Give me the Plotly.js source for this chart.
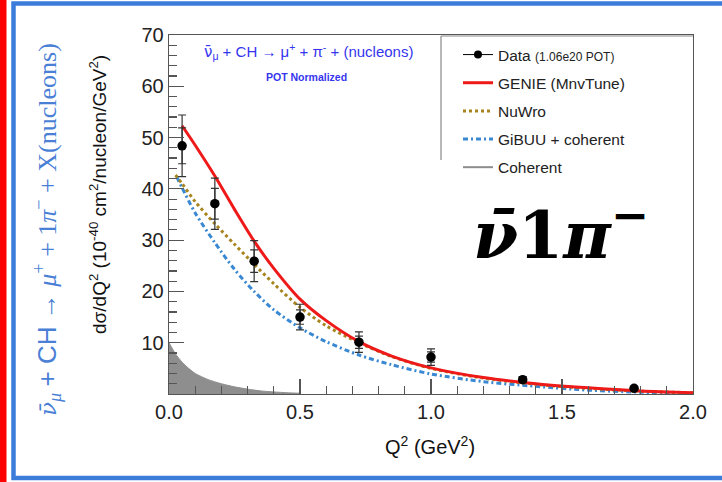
<!DOCTYPE html>
<html>
<head>
<meta charset="utf-8">
<script src="https://cdn.plot.ly/plotly-3.0.1.min.js"></script>
<style>
  html, body { margin: 0; padding: 0; background: #ffffff; }
  #chart { width: 722px; height: 482px; }
</style>
</head>
<body>
<div id="chart"></div>
<script>
// Measured differential cross section dσ/dQ² (1e-40 cm²/nucleon/GeV²)
const dataQ2       = [0.05, 0.175, 0.325, 0.5, 0.725, 1.0, 1.35, 1.775];
const dataXsec     = [48.4, 37.1, 25.9, 15.0, 10.1, 7.2, 2.8, 1.1];
const dataErrTotal = [6.0, 5.0, 4.0, 2.5, 2.0, 1.6, 0.6, 0.4];
const dataErrStat  = [3.5, 3.0, 2.2, 1.4, 1.2, 1.0, 0.4, 0.3];

// GENIE (MnvTune) prediction
const genieQ2   = [0.05, 0.1, 0.175, 0.25, 0.325, 0.4, 0.5, 0.6, 0.725, 0.85, 1.0, 1.2, 1.4, 1.6, 1.8, 2.0];
const genieXsec = [52.3, 48.5, 42.5, 36.0, 29.8, 24.5, 18.5, 14.3, 10.2, 7.4, 5.1, 3.2, 2.0, 1.2, 0.6, 0.25];

// NuWro prediction
const nuwroQ2   = [0.025, 0.05, 0.1, 0.175, 0.25, 0.325, 0.4, 0.5, 0.6, 0.725, 0.85, 1.0, 1.2, 1.4, 1.6, 1.8, 2.0];
const nuwroXsec = [42.7, 41.0, 37.5, 33.2, 29.2, 25.3, 21.5, 16.9, 13.3, 10.0, 7.3, 5.0, 3.1, 1.9, 1.1, 0.55, 0.25];

// GiBUU + coherent prediction
const gibuuQ2   = [0.03, 0.05, 0.1, 0.175, 0.25, 0.325, 0.4, 0.5, 0.6, 0.725, 0.85, 1.0, 1.2, 1.4, 1.6, 1.8, 2.0];
const gibuuXsec = [42.3, 40.2, 35.3, 29.5, 24.3, 20.0, 16.4, 12.9, 10.2, 7.6, 5.7, 3.9, 2.4, 1.5, 0.75, 0.35, 0.1];

// Coherent pion production component
const cohQ2   = [0.0, 0.025, 0.05, 0.075, 0.1, 0.15, 0.2, 0.25, 0.3, 0.35, 0.4, 0.45, 0.5];
const cohXsec = [10.0, 7.8, 6.2, 5.0, 4.0, 2.8, 2.0, 1.4, 0.95, 0.6, 0.4, 0.25, 0.15];

// Axis ticks
const xTickVals = [0, 0.5, 1.0, 1.5, 2.0];
const xTickText = ['0.0', '0.5', '1.0', '1.5', '2.0'];
const yTickVals = [10, 20, 30, 40, 50, 60, 70];

// Frame geometry (pixels) used to place decorations in paper coordinates
const W = 722, H = 482;
const PL = 169, PR = 693, PT = 35, PB = 394;
const px = v => (v - PL) / (PR - PL);
const py = v => (PB - v) / (PB - PT);

const SANS = 'Liberation Sans, Arial, Helvetica, sans-serif';
const SERIF = 'Liberation Serif, DejaVu Serif, serif';
const DSERIF = 'DejaVu Serif, serif';

const colGenie = '#ee1a1a';
const colNuwro = '#a8841e';
const colGibuu = '#3a88d2';
const colCoh   = '#8e8e8e';

const traces = [
  {
    x: cohQ2, y: cohXsec, type: 'scatter', mode: 'lines',
    line: { color: colCoh, width: 1, shape: 'spline', smoothing: 0.6 },
    fill: 'tozeroy', fillcolor: colCoh, showlegend: false, hoverinfo: 'skip'
  },
  {
    x: gibuuQ2, y: gibuuXsec, type: 'scatter', mode: 'lines', name: 'GiBUU + coherent',
    legendgroup: 'g4', legendrank: 4,
    line: { color: colGibuu, width: 3, dash: '5px,3px,2px,3px', shape: 'spline', smoothing: 0.8 }
  },
  {
    x: nuwroQ2, y: nuwroXsec, type: 'scatter', mode: 'lines', name: 'NuWro',
    legendgroup: 'g3', legendrank: 3,
    line: { color: colNuwro, width: 3, dash: 'dot', shape: 'spline', smoothing: 0.8 }
  },
  {
    x: genieQ2, y: genieXsec, type: 'scatter', mode: 'lines', name: 'GENIE (MnvTune)',
    legendgroup: 'g2', legendrank: 2,
    line: { color: colGenie, width: 3, shape: 'spline', smoothing: 0.8 }
  },
  // statistical error caps
  {
    x: dataQ2, y: dataXsec, type: 'scatter', mode: 'markers', showlegend: false,
    marker: { size: 1, color: 'rgba(0,0,0,0)' },
    error_y: { type: 'data', array: dataErrStat, color: '#333', thickness: 1.2, width: 4 }
  },
  // data points with total uncertainty
  {
    x: dataQ2, y: dataXsec, type: 'scatter', mode: 'markers', showlegend: false,
    marker: { size: 9.5, color: '#000' },
    error_y: { type: 'data', array: dataErrTotal, color: '#333', thickness: 1.2, width: 4 }
  },
  // legend entries drawn in the ROOT style (line + marker, plain line)
  {
    x: [null], y: [null], type: 'scatter', mode: 'lines+markers',
    name: 'Data <span style="font-size:12px">(1.06e20 POT)</span>',
    legendgroup: 'g1', legendrank: 1,
    line: { color: '#000', width: 1 }, marker: { size: 8, color: '#000' }
  },
  {
    x: [null], y: [null], type: 'scatter', mode: 'lines', name: 'Coherent',
    legendgroup: 'g5', legendrank: 5,
    line: { color: colCoh, width: 2 }
  }
];

const shapes = [
  // red bar on the left edge
  { type: 'rect', xref: 'paper', yref: 'paper', x0: px(0), x1: px(6.5), y0: py(H), y1: py(0),
    fillcolor: '#ff0000', line: { width: 0 }, layer: 'above' },
  // blue outline box
  { type: 'rect', xref: 'paper', yref: 'paper', x0: px(13.5), x1: px(740), y0: py(478), y1: py(3.5),
    fillcolor: 'rgba(0,0,0,0)', line: { color: '#3c7ddc', width: 4.5 }, layer: 'above' },
  // legend box
  { type: 'line', xref: 'paper', yref: 'paper', x0: px(441), x1: px(693), y0: py(36), y1: py(36),
    line: { color: '#888', width: 1.2 } },
  { type: 'line', xref: 'paper', yref: 'paper', x0: px(441), x1: px(441), y0: py(36), y1: py(160),
    line: { color: '#888', width: 1.2 } }
];

const annotations = [
  // process label along the left side
  {
    xref: 'paper', yref: 'paper', x: px(47), y: py(230), xanchor: 'center', yanchor: 'middle',
    textangle: -90, showarrow: false,
    font: { family: SERIF, size: 26, color: '#4a7fd6' },
    text: '<span style="font-family:DejaVu Serif;font-size:23px"><i>ν̄</i></span><sub><i>μ</i></sub> <span style="font-family:Liberation Sans">+ CH →</span> <i>μ</i><sup>+</sup> + 1<i>π</i><sup>−</sup> + X(nucleons)'
  },
  // y axis title
  {
    xref: 'paper', yref: 'paper', x: px(98), y: py(195), xanchor: 'center', yanchor: 'middle',
    textangle: -90, showarrow: false,
    font: { family: SANS, size: 19, color: '#111' },
    text: 'dσ/dQ<sup>2</sup> (10<sup>-40</sup> cm<sup>2</sup>/nucleon/GeV<sup>2</sup>)'
  },
  // x axis title
  {
    xref: 'paper', yref: 'paper', x: px(430), y: py(445), xanchor: 'center', yanchor: 'middle',
    showarrow: false,
    font: { family: SANS, size: 20, color: '#111' },
    text: 'Q<sup>2</sup> (GeV<sup>2</sup>)'
  },
  // reaction in the plot
  {
    xref: 'paper', yref: 'paper', x: px(308), y: py(51), xanchor: 'center', yanchor: 'middle',
    showarrow: false,
    font: { family: SANS, size: 15, color: '#3535ee' },
    text: '<span style="font-family:DejaVu Sans">ν̄</span><sub>μ</sub> + CH → μ<sup>+</sup> + π<sup>-</sup> + (nucleons)'
  },
  {
    xref: 'paper', yref: 'paper', x: px(306), y: py(77), xanchor: 'center', yanchor: 'middle',
    showarrow: false,
    font: { family: SANS, size: 10.5, color: '#3535ee', weight: 600 },
    text: 'POT Normalized'
  },
  // channel tag
  {
    xref: 'paper', yref: 'paper', x: px(561), y: py(230), xanchor: 'center', yanchor: 'middle',
    showarrow: false,
    font: { family: DSERIF, size: 65, color: '#000' },
    text: '<b><i>ν̄</i>1<i>π</i><sup>−</sup></b>'
  }
];

const axisCommon = {
  showgrid: false, zeroline: false,
  showline: true, linecolor: '#555', linewidth: 1.3, mirror: true,
  ticks: 'inside', tickcolor: '#555', tickwidth: 1.2, ticklen: 15,
  tickfont: { family: SANS, size: 20, color: '#222' }
};

const layout = {
  width: W, height: H,
  margin: { l: PL, r: W - PR, t: PT, b: H - PB, pad: 0 },
  paper_bgcolor: '#ffffff', plot_bgcolor: '#ffffff',
  showlegend: true,
  legend: {
    x: px(458), y: py(38), xanchor: 'left', yanchor: 'top',
    bgcolor: 'rgba(0,0,0,0)', borderwidth: 0,
    font: { family: SANS, size: 15.5, color: '#222' },
    traceorder: 'grouped', tracegroupgap: 5
  },
  xaxis: Object.assign({}, axisCommon, {
    range: [0, 2], tickmode: 'array', tickvals: xTickVals, ticktext: xTickText,
    minor: { ticks: 'inside', ticklen: 8, tickcolor: '#555', tickwidth: 1.2, dtick: 0.1, showgrid: false }
  }),
  yaxis: Object.assign({}, axisCommon, {
    range: [0, 70], tickmode: 'array', tickvals: yTickVals,
    minor: { ticks: 'inside', ticklen: 8, tickcolor: '#555', tickwidth: 1.2, dtick: 2, showgrid: false }
  }),
  shapes: shapes,
  annotations: annotations
};

Plotly.newPlot('chart', traces, layout, { displayModeBar: false, staticPlot: true });
</script>
</body>
</html>
